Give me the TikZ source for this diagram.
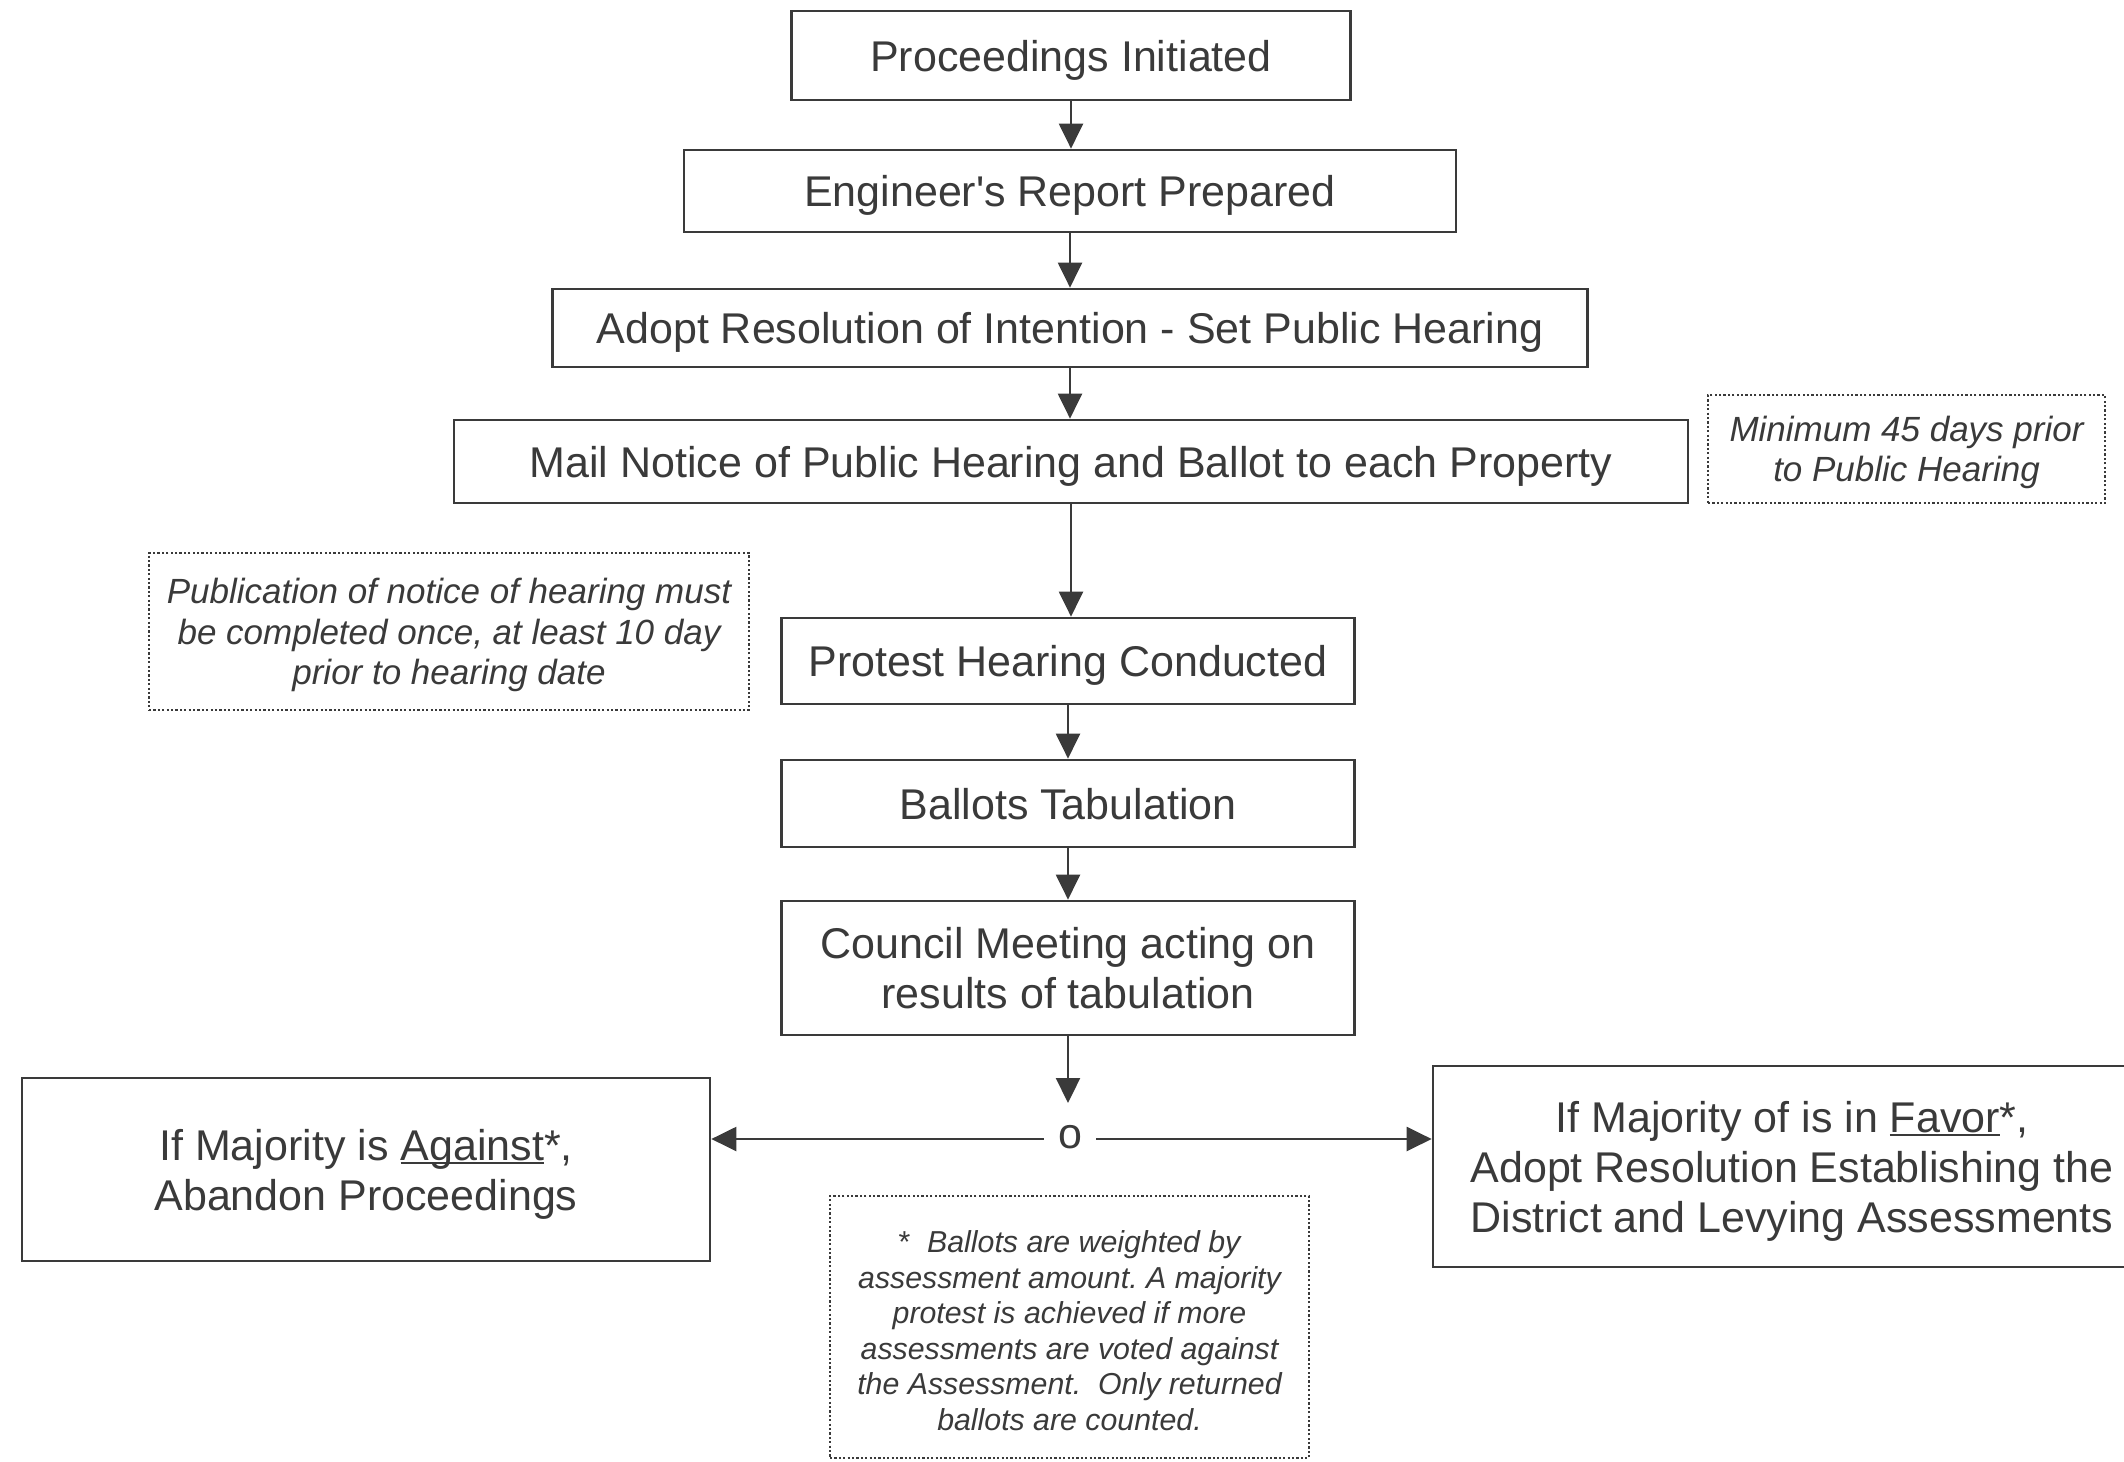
\documentclass[tikz,border=0pt]{standalone}
\usepackage{fontspec}
\setmainfont{Liberation Sans}[Ligatures=TeXOff]
\usetikzlibrary{arrows.meta}
\definecolor{ink}{RGB}{58,58,58}
\frenchspacing
\newcommand\myul[1]{\setbox0\hbox{#1}\rlap{\rule[-4pt]{\wd0}{2pt}}\box0}
\tikzset{
  mainbox/.style={draw=ink, line width=2.7pt, text=ink, inner sep=0pt, align=center,
    text depth=0pt, font=\fontsize{43}{50}\selectfont},
  notebox/.style={draw=ink, line width=2pt, dash pattern=on 2.2pt off 2.2pt, text=ink,
    inner sep=0pt, align=center, text depth=0pt, font=\fontsize{35}{40.6}\selectfont\itshape},
  arr/.style={draw=ink, line width=2.3pt, -{Triangle[width=24pt,length=25pt]}},
}
\begin{document}
\begin{tikzpicture}[x=1pt,y=-1pt]
\useasboundingbox (0,0) rectangle (2124,1461);
\clip (0,0) rectangle (2124,1461);
\fill[white] (0,0) rectangle (2124,1461);

\node[mainbox, minimum width=559pt, minimum height=89pt] (b1) at (1071,55.5) {Proceedings Initiated};
\node[mainbox, minimum width=772pt, minimum height=82pt] (b2) at (1070,191) {Engineer's Report Prepared};
\node[mainbox, minimum width=1035pt, minimum height=78pt] (b3) at (1070,328) {Adopt Resolution of Intention - Set Public Hearing};
\node[mainbox, minimum width=1234pt, minimum height=83pt] (b4) at (1071,461.5) {Mail Notice of Public Hearing and Ballot to each Property};
\node[mainbox, minimum width=573pt, minimum height=86pt] (b5) at (1068,661) {Protest Hearing Conducted};
\node[mainbox, minimum width=573pt, minimum height=87pt] (b6) at (1068,803.5) {Ballots Tabulation};
\node[mainbox, minimum width=573pt, minimum height=134pt] (b7) at (1068,968) {Council Meeting acting on\\results of tabulation};

\node[mainbox, minimum width=688pt, minimum height=183pt] (lft) at (366,1169.5) {If Majority is \myul{Against}*,\\Abandon Proceedings};
\node[mainbox, minimum width=718pt, minimum height=201pt] (rgt) at (1792,1166.5) {If Majority of is in \myul{Favor}*,\\Adopt Resolution Establishing the\\District and Levying Assessments};

\node[notebox, minimum width=397pt, minimum height=108pt] (n1) at (1906.5,449) {Minimum 45 days prior\\to Public Hearing};
\node[notebox, minimum width=600pt, minimum height=157pt] (n2) at (449,631.5) {Publication of notice of hearing must\\be completed once, at least 10 day\\prior to hearing date};
\node[notebox, minimum width=479pt, minimum height=262pt, font=\fontsize{30.3}{35.5}\selectfont\itshape] (n3) at (1069.5,1327) {\\[-7pt]{\upshape*}~~Ballots are weighted by\\assessment amount. A majority\\protest is achieved if more\\assessments are voted against\\the Assessment.~~Only returned\\ballots are counted.};

\node[text=ink, inner xsep=14pt, inner ysep=0pt, text height=19pt, font=\fontsize{43}{50}\selectfont] (j) at (1070,1139) {o};
\coordinate (jt) at (1068,1103);

\draw[arr] (b1.south) -- (b1.south |- b2.north);
\draw[arr] (b2.south) -- (b2.south |- b3.north);
\draw[arr] (b3.south) -- (b3.south |- b4.north);
\draw[arr] (b4.south) -- (b4.south |- b5.north);
\draw[arr] (b5.south) -- (b5.south |- b6.north);
\draw[arr] (b6.south) -- (b6.south |- b7.north);
\draw[arr] (b7.south) -- (jt);
\draw[arr] (j.west) -- (j.west -| lft.east);
\draw[arr] (j.east) -- (j.east -| rgt.west);
\end{tikzpicture}
\end{document}
